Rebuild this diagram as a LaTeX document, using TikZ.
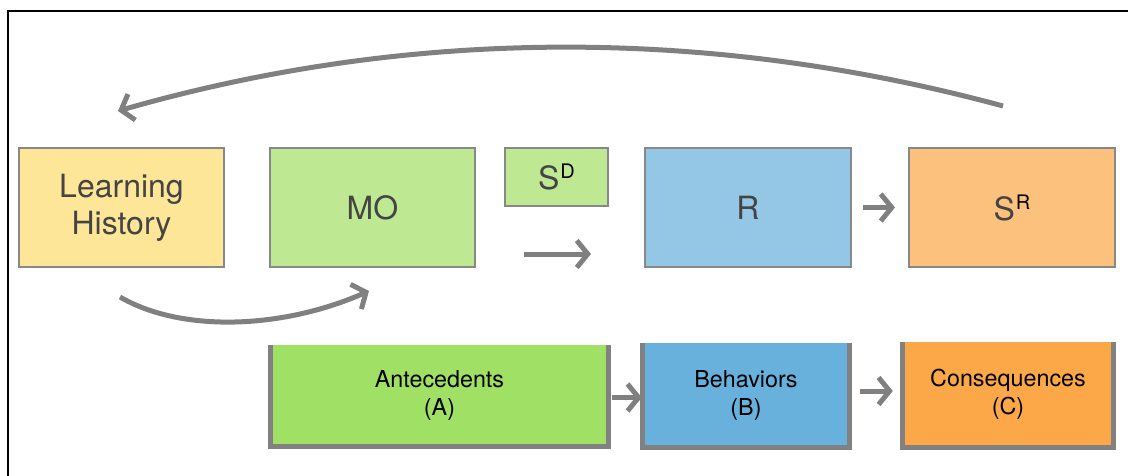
\documentclass[tikz,border=0pt]{standalone}
\usepackage{fontspec}
\setmainfont{TeX Gyre Heros}
\usetikzlibrary{arrows.meta,positioning,calc}
\definecolor{histFill}{RGB}{253,230,152}
\definecolor{moFill}{RGB}{190,232,146}
\definecolor{rFill}{RGB}{148,199,230}
\definecolor{srFill}{RGB}{253,193,126}
\definecolor{anteFill}{RGB}{160,224,100}
\definecolor{behFill}{RGB}{103,177,220}
\definecolor{consFill}{RGB}{252,168,72}
\definecolor{edgeGray}{RGB}{136,136,136}
\definecolor{arrGray}{RGB}{128,128,128}
\definecolor{topText}{RGB}{68,68,68}
\newcommand{\upmark}[1]{\hspace{1pt}\raisebox{11pt}{\fontsize{20}{20}\selectfont\color{black}#1}}
\tikzset{
  topbox/.style={draw=edgeGray, line width=2pt, inner sep=0pt, align=center,
    text=topText, font=\fontsize{32}{37}\selectfont},
  lowbox/.style={inner sep=0pt, align=center, text=black,
    font=\fontsize{23.3}{28}\selectfont},
  lowedge/.style={line width=5pt, edgeGray!95!black, line join=miter},
  flow/.style={-{Straight Barb[length=11pt,width=27pt]}, line width=5pt, arrGray},
}

\begin{document}
\begin{tikzpicture}[x=1pt, y=-1pt]
    \useasboundingbox (0,0) rectangle (1128,475);
    % frame
    \begin{scope}
      \clip (0,0) rectangle (1128,475);
      \draw[line width=2.5pt] (8,11) rectangle (1160,500);
    \end{scope}
    % upper row
    \node[topbox, fill=histFill, minimum width=205pt, minimum height=119pt] (hist) at (121.5,207.5) {Learning\\History};
    \node[topbox, fill=moFill, minimum width=205pt, minimum height=119pt] (mo) at (372.5,207.5) {MO};
    \node[topbox, fill=moFill, minimum width=103pt, minimum height=58pt] (sd) at (556.5,177) {S\upmark{D}};
    \node[topbox, fill=rFill, minimum width=206pt, minimum height=119pt] (resp) at (748,207.5) {R};
    \node[topbox, fill=srFill, minimum width=206pt, minimum height=119pt] (sr) at (1012,207.5) {S\upmark{R}};
    % lower row
    \node[lowbox, fill=anteFill, minimum width=337pt, minimum height=101pt] (ante) at (439.5,395.5) {Antecedents\\(A)};
    \node[lowbox, fill=behFill, minimum width=206pt, minimum height=104pt] (beh) at (746,395) {Behaviors\\(B)};
    \node[lowbox, fill=consFill, minimum width=210pt, minimum height=105pt] (cons) at (1008,394.5) {Consequences\\(C)};
    \foreach \b in {ante,beh,cons}
      \draw[lowedge] (\b.north west) |- (\b.south east) -- (\b.north east);
    % arrows
    \coordinate (sdtail) at (524,254);
    \coordinate (sdhead) at (591,254);
    \draw[flow] (sdtail) -- (sdhead);
    \draw[flow, shorten <=11pt, shorten >=13pt] (resp.east) -- (sr.west);
    \draw[flow, shorten <=4pt, shorten >=1pt] ([yshift=-2pt]ante.east) -- ([yshift=-2pt]ante.east -| beh.west);
    \draw[flow, shorten <=11pt, shorten >=10pt] ([yshift=4pt]beh.east) -- ([yshift=4pt]beh.east -| cons.west);
    % feedback and history arrows
    \coordinate (fbtail) at (1003,106);
    \coordinate (fbhead) at (118,111);
    \draw[flow] (fbtail) .. controls (700,24) and (400,30) .. (fbhead);
    \coordinate (lhtail) at (120,297);
    \coordinate (lhhead) at (369,291);
    \draw[flow] (lhtail) .. controls (180,332) and (280,330) .. (lhhead);
  \end{tikzpicture}
\end{document}
